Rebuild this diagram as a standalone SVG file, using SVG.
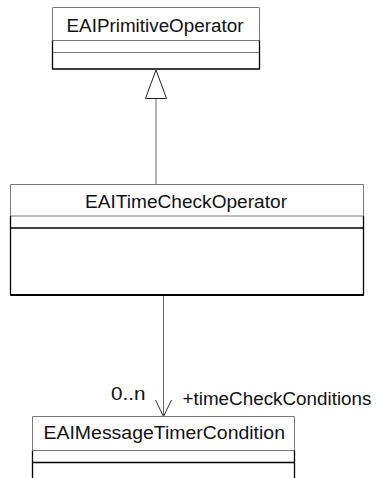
<svg xmlns="http://www.w3.org/2000/svg" width="380" height="478" viewBox="0 0 380 478">
<style>
.bg{fill:#fff}
.g{fill:none;stroke:#7a7a7a;stroke-width:1}
.k{fill:none;stroke:#000;stroke-width:1.3}
.kb{fill:none;stroke:#000;stroke-width:2}
.t{font-family:"Liberation Sans",Arial,Helvetica,sans-serif;font-size:17.5px;fill:#111}
.c{stroke:#6a6a6a;stroke-width:1;fill:none}
</style>
<rect width="380" height="478" fill="#fff"/>
<g id="connectors">
<line class="c" x1="156" y1="98" x2="156" y2="184"/>
<polygon points="156,70 145.5,98.5 166.5,98.5" fill="#fff" stroke="#222" stroke-width="1"/>
<line class="c" x1="163.5" y1="296" x2="163.5" y2="416.5"/>
<polyline points="155.5,400 163.5,416.5 171.5,400" fill="none" stroke="#333" stroke-width="1"/>
<text class="t" x="111" y="400" textLength="34.5" lengthAdjust="spacingAndGlyphs">0..n</text>
<text class="t" x="182.5" y="405" textLength="189" lengthAdjust="spacingAndGlyphs">+timeCheckConditions</text>
</g>
<g id="EAIPrimitiveOperator">
<rect class="bg" x="52.5" y="7.5" width="207" height="62"/>
<path class="g" d="M52.5,40.5 V7.5 H259.5 V40.5 M52.5,40.5 H259.5"/>
<path class="g" d="M52.5,52.5 H259.5"/>
<path class="k" d="M52.5,40.5 V69 H259.5 V40.5"/>
<text class="t" x="66.5" y="31.5" textLength="177" lengthAdjust="spacingAndGlyphs">EAIPrimitiveOperator</text>
</g>
<g id="EAITimeCheckOperator">
<rect class="bg" x="10.5" y="184.5" width="353" height="111"/>
<path class="g" d="M10.5,216 V184.5 H363.5 V216 M10.5,216 H363.5"/>
<path class="k" d="M10.5,228 H363.5"/>
<path class="k" d="M10.5,216 V295 M363.5,216 V295"/>
<path class="kb" d="M10,295 H364"/>
<text class="t" x="85" y="208.3" textLength="202" lengthAdjust="spacingAndGlyphs">EAITimeCheckOperator</text>
</g>
<g id="EAIMessageTimerCondition">
<rect class="bg" x="32.5" y="416.5" width="262" height="62"/>
<path class="g" d="M32.5,450.5 V416.5 H294.5 V450.5 M32.5,450.5 H294.5"/>
<path class="k" d="M32.5,462.5 H294.5"/>
<path class="k" d="M32.5,450.5 V478 M294.5,450.5 V478"/>
<text class="t" x="43.5" y="439.3" textLength="241.5" lengthAdjust="spacingAndGlyphs">EAIMessageTimerCondition</text>
</g>
</svg>
